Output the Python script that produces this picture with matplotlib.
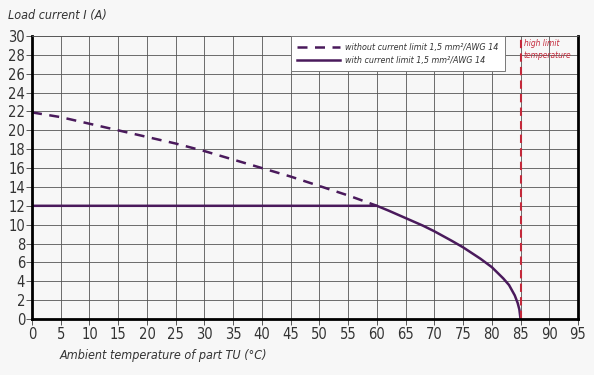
import matplotlib.pyplot as plt
from matplotlib import font_manager

# derating curve, values
temp_dashed = [0, 5, 10, 15, 20, 25, 30, 35, 40, 45, 50, 55, 60]
curr_dashed = [21.9, 21.4, 20.7, 20.0, 19.3, 18.6, 17.8, 16.9, 16.0, 15.1, 14.1, 13.1, 12.0]

temp_solid = [0, 60, 62, 65, 68, 70, 73, 75, 78, 80, 82, 83, 84, 84.5, 84.8, 85]
curr_solid = [12.0, 12.0, 11.5, 10.7, 9.9, 9.3, 8.3, 7.6, 6.4, 5.5, 4.3, 3.6, 2.5, 1.7, 1.0, 0.0]

limit_temp = 85
x_ticks = list(range(0, 100, 5))
y_ticks = list(range(0, 32, 2))

names = {f.name for f in font_manager.fontManager.ttflist}
family = "Liberation Sans Narrow" if "Liberation Sans Narrow" in names else "DejaVu Sans"
plt.rcParams["font.family"] = family
plt.rcParams["font.stretch"] = "condensed"

bg = "#f7f7f7"
purple = "#4a1a5c"
red = "#c4283a"

fig = plt.figure(figsize=(5.94, 3.75), dpi=100, facecolor=bg)
ax = fig.add_axes([32 / 594, 56 / 375, 546 / 594, 283 / 375], facecolor=bg)

ax.set_xlim(0, 95)
ax.set_ylim(0, 30)
ax.set_xticks(x_ticks)
ax.set_yticks(y_ticks)
ax.grid(True, color="#555555", linewidth=0.6)
ax.set_axisbelow(True)

ax.plot(temp_dashed, curr_dashed, color=purple, linewidth=1.8, linestyle=(0, (4, 3)),
        label="without current limit 1,5 mm²/AWG 14")
ax.plot(temp_solid, curr_solid, color=purple, linewidth=1.8,
        label="with current limit 1,5 mm²/AWG 14")
ax.axvline(limit_temp, color=red, linewidth=1.5, linestyle=(0, (4, 2.5)))

ax.text(85.6, 29.7, "high limit\ntemperature", color=red, fontsize=6, style="italic",
        va="top", ha="left", linespacing=1.5)

for side in ("left", "bottom", "right"):
    ax.spines[side].set_linewidth(2)
    ax.spines[side].set_color("black")
ax.spines["top"].set_linewidth(0.6)
ax.spines["top"].set_color("#555555")

ax.tick_params(axis="both", length=4, width=0.7, color="#555555", labelsize=10.5,
               labelcolor="#333333", pad=2)
ax.tick_params(axis="y", pad=1)

leg = ax.legend(loc="upper left", bbox_to_anchor=(45, 30), bbox_transform=ax.transData,
                frameon=True, fancybox=False, borderaxespad=0,
                prop={"style": "italic", "size": 6.4, "family": family, "stretch": "condensed"},
                handlelength=4.8, borderpad=0.75, labelspacing=0.45, handletextpad=0.6)
leg.get_frame().set_edgecolor("#777777")
leg.get_frame().set_linewidth(0.7)
leg.get_frame().set_facecolor("white")
leg.get_frame().set_alpha(1)
for t in leg.get_texts():
    t.set_color("#333333")

fig.text(8 / 594, 1 - 16 / 375, "Load current I (A)", fontsize=9, style="italic",
         color="#333333", va="center", ha="left")
fig.text(60 / 594, 1 - 355 / 375, "Ambient temperature of part TU (°C)", fontsize=9,
         style="italic", color="#333333", va="center", ha="left")

fig.savefig("out.png", dpi=100, facecolor=bg)
